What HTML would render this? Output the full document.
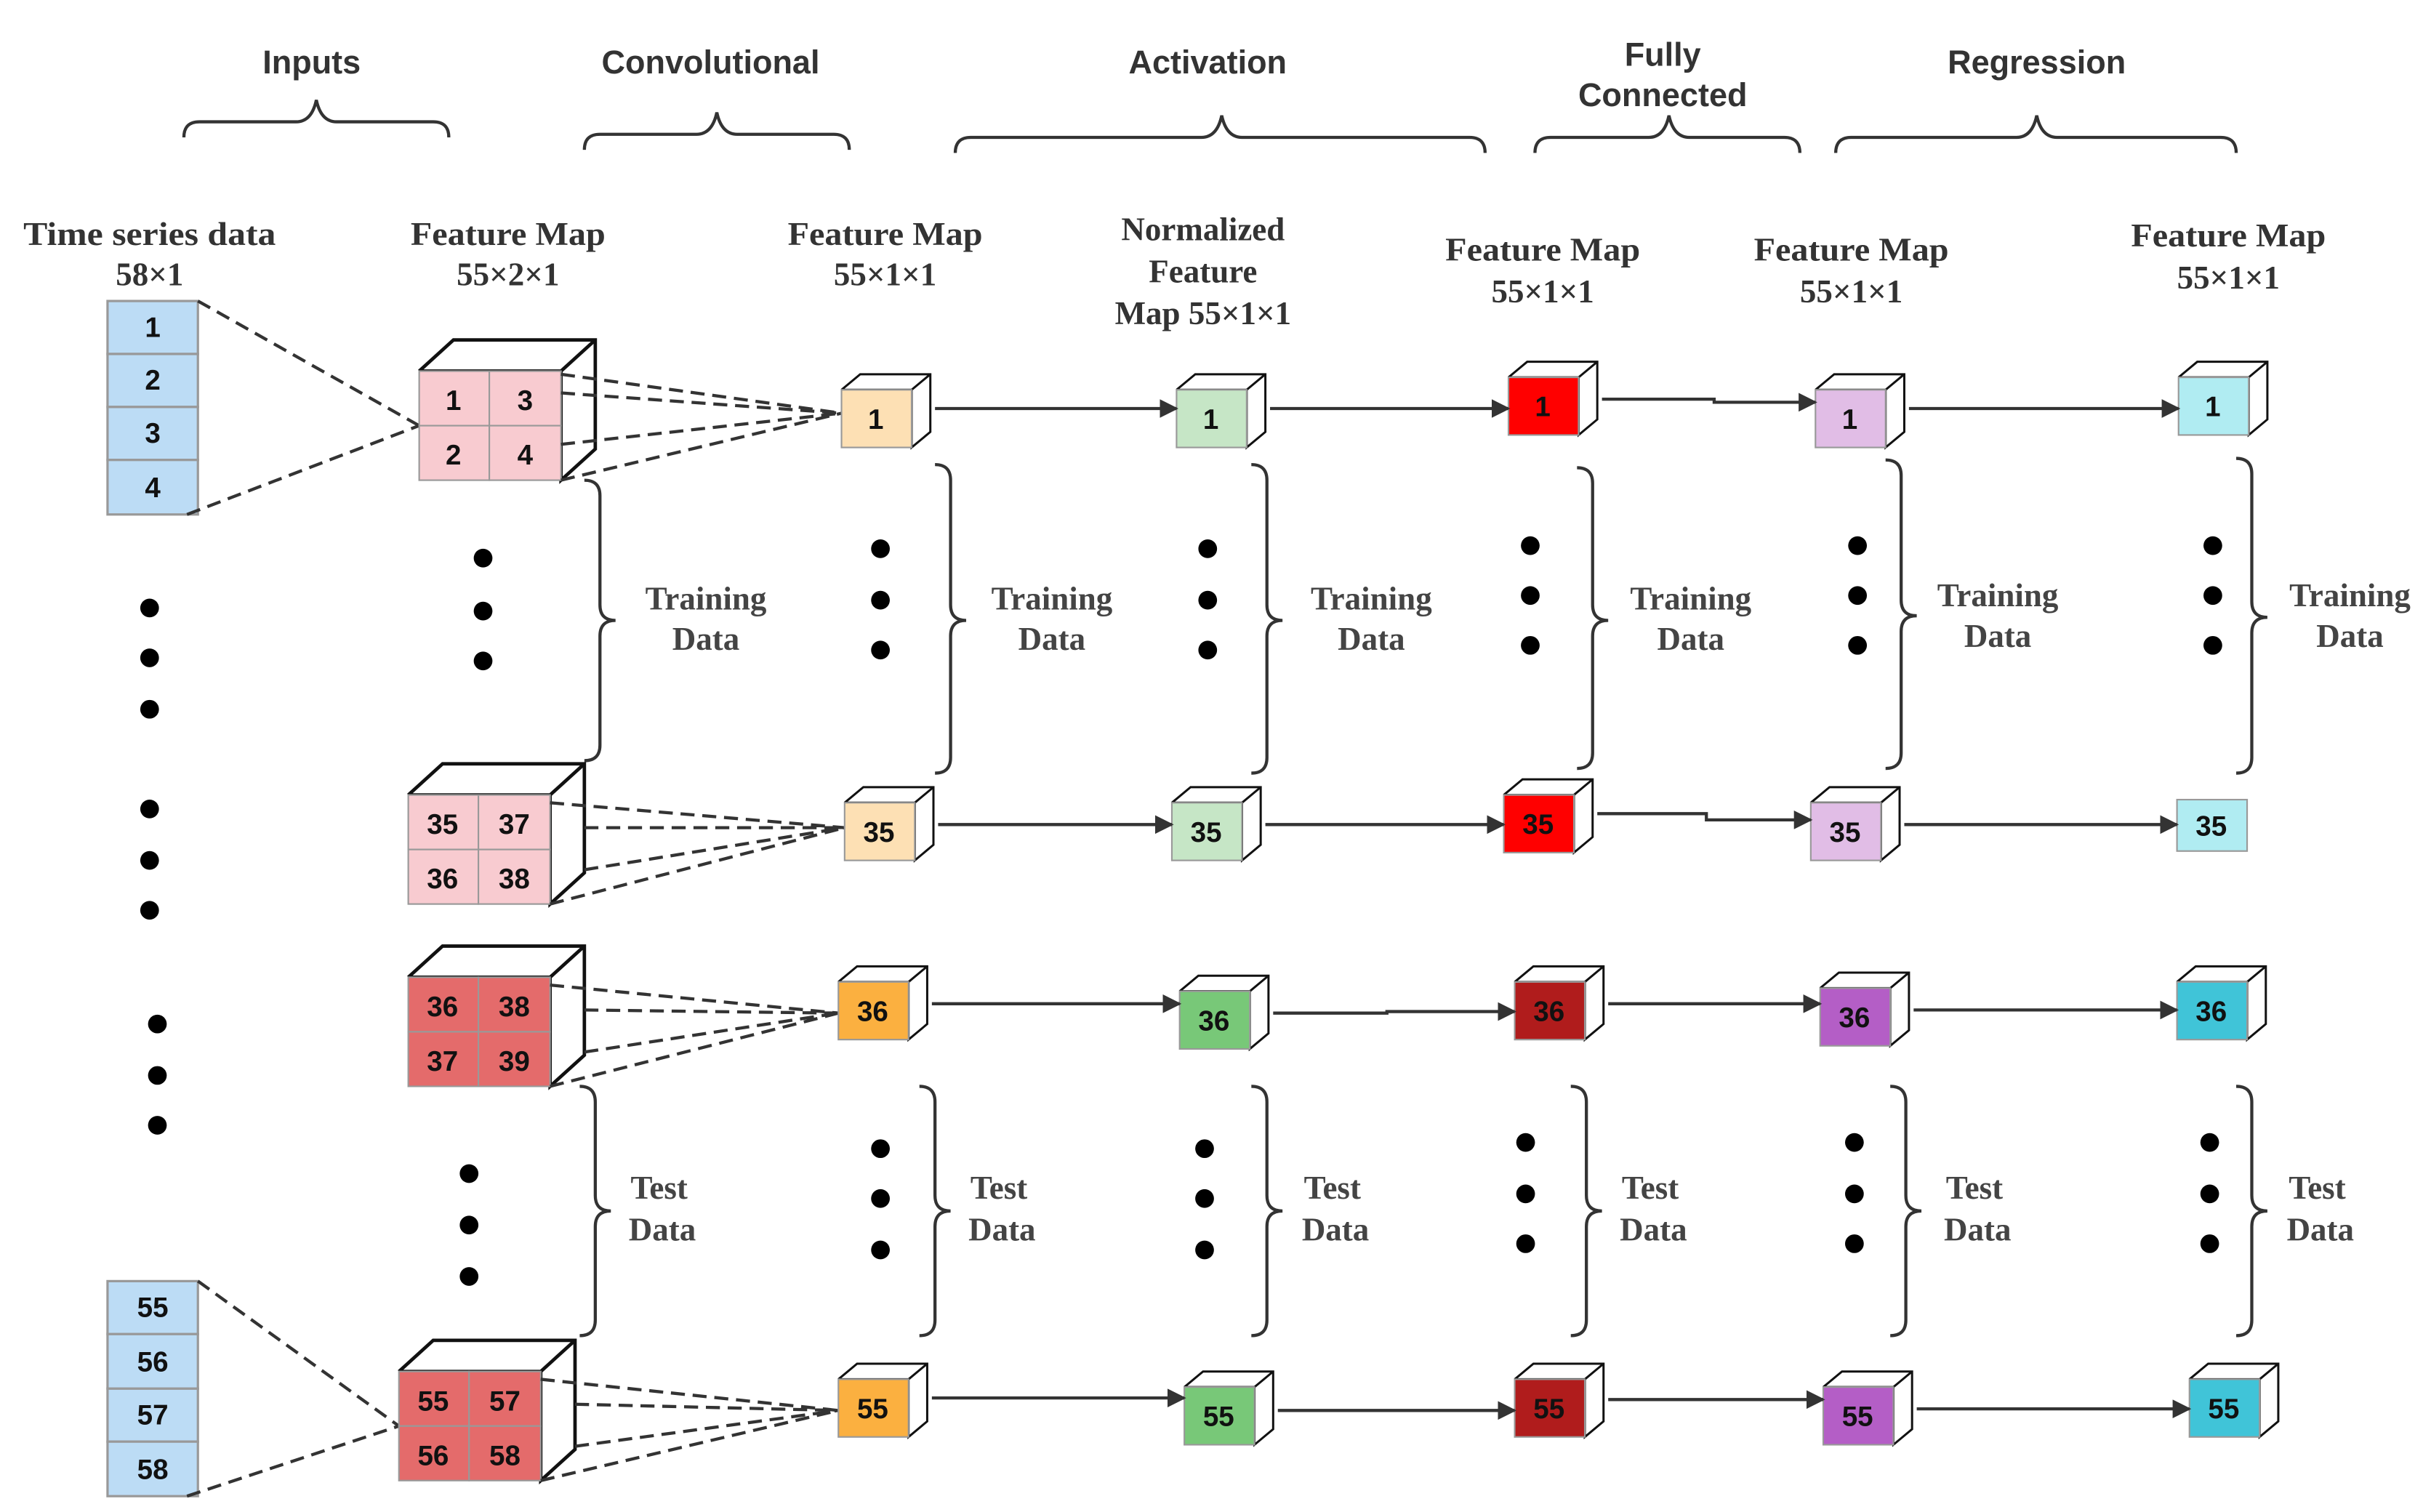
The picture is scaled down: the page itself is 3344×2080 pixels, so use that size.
<!DOCTYPE html>
<html><head><meta charset="utf-8"><style>
html,body{margin:0;padding:0;background:#fff;}
svg{display:block}
.h{font-family:"Liberation Sans",sans-serif;font-weight:bold;font-size:21px;fill:#333;text-anchor:middle}
.s{font-family:"Liberation Serif",serif;font-weight:bold;font-size:21px;fill:#333;text-anchor:middle}
.t{font-family:"Liberation Serif",serif;font-weight:bold;font-size:21px;fill:#444;text-anchor:middle}
.n{font-family:"Liberation Sans",sans-serif;font-weight:bold;font-size:18px;fill:#111;text-anchor:middle}
.d{stroke:#333;stroke-width:2;stroke-dasharray:9 5;fill:none}
.a{stroke:#333;stroke-width:2;fill:none;marker-end:url(#ar)}
.b{stroke:#333;stroke-width:2;fill:none}
</style></head><body>
<svg width="3344" height="2080" viewBox="0 0 1560 970" xmlns="http://www.w3.org/2000/svg">
<defs>
<marker id="ar" viewBox="0 0 10 10" refX="9" refY="5" markerWidth="6" markerHeight="6" orient="auto"><path d="M0,0L10,5L0,10z" fill="#333"/></marker>
<g id="cf"><path d="M0,0L12,-10L57,-10L57,27L45,37L45,0L0,0M45,0L57,-10" fill="#fff" stroke="#111" stroke-width="1.4"/></g>
<g id="bf"><path d="M0,0L22,-20L113,-20L113,50L91,70L91,0L0,0M91,0L113,-20" fill="#fff" stroke="#111" stroke-width="2.2"/></g>
</defs>

<!-- headers -->
<text class="h" x="200" y="47">Inputs</text>
<text class="h" x="456" y="47">Convolutional</text>
<text class="h" x="775" y="47">Activation</text>
<text class="h" x="1067" y="42">Fully</text>
<text class="h" x="1067" y="68">Connected</text>
<text class="h" x="1307" y="47">Regression</text>
<g class="b">
<path d="M118,88q0,-10 10,-10h62q10,0 13,-14q3,14 13,14h62q10,0 10,10"/>
<path d="M375,96q0,-10 10,-10h62q10,0 13,-14q3,14 13,14h62q10,0 10,10"/>
<path d="M613,98q0,-10 10,-10h148q10,0 13,-14q3,14 13,14h146q10,0 10,10"/>
<path d="M985,98q0,-10 10,-10h63q10,0 13,-14q3,14 13,14h61q10,0 10,10"/>
<path d="M1178,98q0,-10 10,-10h106q10,0 13,-14q3,14 13,14h105q10,0 10,10"/>
</g>

<!-- column labels -->
<text class="s" x="96" y="157" textLength="162" lengthAdjust="spacingAndGlyphs">Time series data</text>
<text class="s" x="96" y="183">58×1</text>
<text class="s" x="326" y="157" textLength="125" lengthAdjust="spacingAndGlyphs">Feature Map</text>
<text class="s" x="326" y="183">55×2×1</text>
<text class="s" x="568" y="157" textLength="125" lengthAdjust="spacingAndGlyphs">Feature Map</text>
<text class="s" x="568" y="183">55×1×1</text>
<text class="s" x="772" y="154">Normalized</text>
<text class="s" x="772" y="181">Feature</text>
<text class="s" x="772" y="208">Map 55×1×1</text>
<text class="s" x="990" y="167" textLength="125" lengthAdjust="spacingAndGlyphs">Feature Map</text>
<text class="s" x="990" y="194">55×1×1</text>
<text class="s" x="1188" y="167" textLength="125" lengthAdjust="spacingAndGlyphs">Feature Map</text>
<text class="s" x="1188" y="194">55×1×1</text>
<text class="s" x="1430" y="158" textLength="125" lengthAdjust="spacingAndGlyphs">Feature Map</text>
<text class="s" x="1430" y="185">55×1×1</text>

<!-- input columns -->
<g stroke="#999" stroke-width="1.5" fill="#bcdcf5">
<rect x="69" y="193" width="58" height="34"/><rect x="69" y="227" width="58" height="34"/><rect x="69" y="261" width="58" height="34"/><rect x="69" y="295" width="58" height="35"/>
<rect x="69" y="822" width="58" height="34"/><rect x="69" y="856" width="58" height="35"/><rect x="69" y="891" width="58" height="34"/><rect x="69" y="925" width="58" height="35"/>
</g>
<text class="n" x="98" y="216">1</text><text class="n" x="98" y="250">2</text><text class="n" x="98" y="284">3</text><text class="n" x="98" y="319">4</text>
<text class="n" x="98" y="845">55</text><text class="n" x="98" y="880">56</text><text class="n" x="98" y="914">57</text><text class="n" x="98" y="949">58</text>
<path class="d" d="M127,193L269,273M120,330L269,273"/>
<path class="d" d="M127,822L256,915M120,960L256,915"/>

<!-- dots -->
<g fill="#000">
<circle cx="96" cy="390" r="6"/><circle cx="96" cy="422" r="6"/><circle cx="96" cy="455" r="6"/>
<circle cx="96" cy="519" r="6"/><circle cx="96" cy="552" r="6"/><circle cx="96" cy="584" r="6"/>
<circle cx="101" cy="657" r="6"/><circle cx="101" cy="690" r="6"/><circle cx="101" cy="722" r="6"/>
<circle cx="310" cy="358" r="6"/><circle cx="310" cy="392" r="6"/><circle cx="310" cy="424" r="6"/>
<circle cx="301" cy="753" r="6"/><circle cx="301" cy="786" r="6"/><circle cx="301" cy="819" r="6"/>
<circle cx="565" cy="352" r="6"/><circle cx="565" cy="385" r="6"/><circle cx="565" cy="417" r="6"/>
<circle cx="775" cy="352" r="6"/><circle cx="775" cy="385" r="6"/><circle cx="775" cy="417" r="6"/>
<circle cx="982" cy="350" r="6"/><circle cx="982" cy="382" r="6"/><circle cx="982" cy="414" r="6"/>
<circle cx="1192" cy="350" r="6"/><circle cx="1192" cy="382" r="6"/><circle cx="1192" cy="414" r="6"/>
<circle cx="1420" cy="350" r="6"/><circle cx="1420" cy="382" r="6"/><circle cx="1420" cy="414" r="6"/>
<circle cx="565" cy="737" r="6"/><circle cx="565" cy="769" r="6"/><circle cx="565" cy="802" r="6"/>
<circle cx="773" cy="737" r="6"/><circle cx="773" cy="769" r="6"/><circle cx="773" cy="802" r="6"/>
<circle cx="979" cy="733" r="6"/><circle cx="979" cy="766" r="6"/><circle cx="979" cy="798" r="6"/>
<circle cx="1190" cy="733" r="6"/><circle cx="1190" cy="766" r="6"/><circle cx="1190" cy="798" r="6"/>
<circle cx="1418" cy="733" r="6"/><circle cx="1418" cy="766" r="6"/><circle cx="1418" cy="798" r="6"/>
</g>

<!-- vertical braces -->
<g class="b" stroke-width="1.8">
<path d="M375,308q10,0 10,10v70q0,10 10,10q-10,0 -10,10v70q0,10 -10,10"/>
<path d="M600,298q10,0 10,10v80q0,10 10,10q-10,0 -10,10v78q0,10 -10,10"/>
<path d="M803,298q10,0 10,10v80q0,10 10,10q-10,0 -10,10v78q0,10 -10,10"/>
<path d="M1012,300q10,0 10,10v78q0,10 10,10q-10,0 -10,10v75q0,10 -10,10"/>
<path d="M1210,295q10,0 10,10v80q0,10 10,10q-10,0 -10,10v78q0,10 -10,10"/>
<path d="M1435,294q10,0 10,10v82q0,10 10,10q-10,0 -10,10v80q0,10 -10,10"/>
<path d="M372,697q10,0 10,10v60q0,10 10,10q-10,0 -10,10v60q0,10 -10,10"/>
<path d="M590,697q10,0 10,10v60q0,10 10,10q-10,0 -10,10v60q0,10 -10,10"/>
<path d="M803,697q10,0 10,10v60q0,10 10,10q-10,0 -10,10v60q0,10 -10,10"/>
<path d="M1008,697q10,0 10,10v60q0,10 10,10q-10,0 -10,10v60q0,10 -10,10"/>
<path d="M1213,697q10,0 10,10v60q0,10 10,10q-10,0 -10,10v60q0,10 -10,10"/>
<path d="M1435,697q10,0 10,10v60q0,10 10,10q-10,0 -10,10v60q0,10 -10,10"/>
</g>
<g class="t">
<text x="453" y="391">Training</text><text x="453" y="417">Data</text>
<text x="675" y="391">Training</text><text x="675" y="417">Data</text>
<text x="880" y="391">Training</text><text x="880" y="417">Data</text>
<text x="1085" y="391">Training</text><text x="1085" y="417">Data</text>
<text x="1282" y="389">Training</text><text x="1282" y="415">Data</text>
<text x="1508" y="389">Training</text><text x="1508" y="415">Data</text>
<text x="423" y="769">Test</text><text x="425" y="796">Data</text>
<text x="641" y="769">Test</text><text x="643" y="796">Data</text>
<text x="855" y="769">Test</text><text x="857" y="796">Data</text>
<text x="1059" y="769">Test</text><text x="1061" y="796">Data</text>
<text x="1267" y="769">Test</text><text x="1269" y="796">Data</text>
<text x="1487" y="769">Test</text><text x="1489" y="796">Data</text>
</g>

<!-- conv cubes -->
<g transform="translate(269,238)"><use href="#bf"/><g fill="#f8cbd0" stroke="#999"><rect width="45" height="35"/><rect x="45" width="46" height="35"/><rect y="35" width="45" height="35"/><rect x="45" y="35" width="46" height="35"/></g>
<text class="n" x="22" y="25">1</text><text class="n" x="68" y="25">3</text><text class="n" x="22" y="60">2</text><text class="n" x="68" y="60">4</text></g>
<path class="d" d="M360,240L540,265M360,252L540,265M360,285L540,265M360,308L540,265"/>

<g transform="translate(262,510)"><use href="#bf"/><g fill="#f8cbd0" stroke="#999"><rect width="45" height="35"/><rect x="45" width="46" height="35"/><rect y="35" width="45" height="35"/><rect x="45" y="35" width="46" height="35"/></g>
<text class="n" x="22" y="25">35</text><text class="n" x="68" y="25">37</text><text class="n" x="22" y="60">36</text><text class="n" x="68" y="60">38</text></g>
<path class="d" d="M353,515L542,531M375,531L542,531M375,558L542,531M353,580L542,531"/>

<g transform="translate(262,627)"><use href="#bf"/><g fill="#e46b6b" stroke="#999"><rect width="45" height="35"/><rect x="45" width="46" height="35"/><rect y="35" width="45" height="35"/><rect x="45" y="35" width="46" height="35"/></g>
<text class="n" x="22" y="25">36</text><text class="n" x="68" y="25">38</text><text class="n" x="22" y="60">37</text><text class="n" x="68" y="60">39</text></g>
<path class="d" d="M353,632L538,650M375,648L538,650M375,675L538,650M353,697L538,650"/>

<g transform="translate(256,880)"><use href="#bf"/><g fill="#e46b6b" stroke="#999"><rect width="45" height="35"/><rect x="45" width="46" height="35"/><rect y="35" width="45" height="35"/><rect x="45" y="35" width="46" height="35"/></g>
<text class="n" x="22" y="25">55</text><text class="n" x="68" y="25">57</text><text class="n" x="22" y="60">56</text><text class="n" x="68" y="60">58</text></g>
<path class="d" d="M347,885L538,905M369,901L538,905M369,928L538,905M347,950L538,905"/>

<!-- small cubes row1 -->
<g transform="translate(540,250)"><use href="#cf"/><rect width="45" height="37" fill="#fde0b4" stroke="#999"/><text class="n" x="22" y="25">1</text></g>
<g transform="translate(755,250)"><use href="#cf"/><rect width="45" height="37" fill="#c6e6c6" stroke="#999"/><text class="n" x="22" y="25">1</text></g>
<g transform="translate(968,242)"><use href="#cf"/><rect width="45" height="37" fill="#ff0000" stroke="#999"/><text class="n" x="22" y="25">1</text></g>
<g transform="translate(1165,250)"><use href="#cf"/><rect width="45" height="37" fill="#e1bde6" stroke="#999"/><text class="n" x="22" y="25">1</text></g>
<g transform="translate(1398,242)"><use href="#cf"/><rect width="45" height="37" fill="#b0ecf2" stroke="#999"/><text class="n" x="22" y="25">1</text></g>
<path class="a" d="M600,262H755"/><path class="a" d="M815,262H968"/><path class="a" d="M1028,256H1100V258H1165"/><path class="a" d="M1225,262H1398"/>

<!-- row2 -->
<g transform="translate(542,515)"><use href="#cf"/><rect width="45" height="37" fill="#fde0b4" stroke="#999"/><text class="n" x="22" y="25">35</text></g>
<g transform="translate(752,515)"><use href="#cf"/><rect width="45" height="37" fill="#c6e6c6" stroke="#999"/><text class="n" x="22" y="25">35</text></g>
<g transform="translate(965,510)"><use href="#cf"/><rect width="45" height="37" fill="#ff0000" stroke="#999"/><text class="n" x="22" y="25">35</text></g>
<g transform="translate(1162,515)"><use href="#cf"/><rect width="45" height="37" fill="#e1bde6" stroke="#999"/><text class="n" x="22" y="25">35</text></g>
<rect x="1397" y="513" width="45" height="33" fill="#b0ecf2" stroke="#999"/><text class="n" x="1419" y="536">35</text>
<path class="a" d="M602,529H752"/><path class="a" d="M812,529H965"/><path class="a" d="M1025,522H1095V526H1162"/><path class="a" d="M1222,529H1397"/>

<!-- row3 -->
<g transform="translate(538,630)"><use href="#cf"/><rect width="45" height="37" fill="#fbb040" stroke="#999"/><text class="n" x="22" y="25">36</text></g>
<g transform="translate(757,636)"><use href="#cf"/><rect width="45" height="37" fill="#78c878" stroke="#999"/><text class="n" x="22" y="25">36</text></g>
<g transform="translate(972,630)"><use href="#cf"/><rect width="45" height="37" fill="#b01c1c" stroke="#999"/><text class="n" x="22" y="25">36</text></g>
<g transform="translate(1168,634)"><use href="#cf"/><rect width="45" height="37" fill="#b45ec6" stroke="#999"/><text class="n" x="22" y="25">36</text></g>
<g transform="translate(1397,630)"><use href="#cf"/><rect width="45" height="37" fill="#40c4d8" stroke="#999"/><text class="n" x="22" y="25">36</text></g>
<path class="a" d="M598,644H757"/><path class="a" d="M817,650H890V649H972"/><path class="a" d="M1032,644H1168"/><path class="a" d="M1228,648H1397"/>

<!-- row4 -->
<g transform="translate(538,885)"><use href="#cf"/><rect width="45" height="37" fill="#fbb040" stroke="#999"/><text class="n" x="22" y="25">55</text></g>
<g transform="translate(760,890)"><use href="#cf"/><rect width="45" height="37" fill="#78c878" stroke="#999"/><text class="n" x="22" y="25">55</text></g>
<g transform="translate(972,885)"><use href="#cf"/><rect width="45" height="37" fill="#b01c1c" stroke="#999"/><text class="n" x="22" y="25">55</text></g>
<g transform="translate(1170,890)"><use href="#cf"/><rect width="45" height="37" fill="#b45ec6" stroke="#999"/><text class="n" x="22" y="25">55</text></g>
<g transform="translate(1405,885)"><use href="#cf"/><rect width="45" height="37" fill="#40c4d8" stroke="#999"/><text class="n" x="22" y="25">55</text></g>
<path class="a" d="M598,897H760"/><path class="a" d="M820,905H972"/><path class="a" d="M1032,898H1170"/><path class="a" d="M1230,904H1405"/>
</svg>
</body></html>
